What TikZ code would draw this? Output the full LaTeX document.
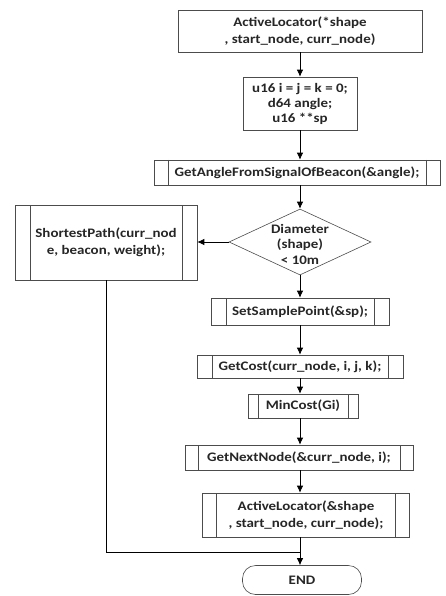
\documentclass[tikz,border=0pt]{standalone}
\usepackage{fontspec}
\setmainfont{Carlito}[FakeStretch=1.15]
\usetikzlibrary{shapes.geometric,arrows.meta}
\tikzset{
  txt/.style={font=\bfseries\fontsize{13}{17}\selectfont, text=black!85, align=center},
  box/.style={draw=black!70, line width=0.6pt, rectangle, inner sep=0pt, txt},
  sub/.style={box, path picture={
    \draw[black!70, line width=0.6pt] ([xshift=#1]path picture bounding box.north west) -- ([xshift=#1]path picture bounding box.south west);
    \draw[black!70, line width=0.6pt] ([xshift=-#1]path picture bounding box.north east) -- ([xshift=-#1]path picture bounding box.south east);}},
  sub/.default=14pt,
  conn/.style={black, line width=0.8pt, -{Latex[length=7pt,width=6.5pt]}},
  plain/.style={black, line width=0.8pt}
}
\begin{document}
\begin{tikzpicture}[x=1pt,y=-1pt]
\useasboundingbox (0,0) rectangle (446,596);
\node[box, minimum width=244pt, minimum height=42pt] (top) at (300,31) {ActiveLocator(*shape\\, start\_node, curr\_node)};
\node[box, minimum width=114pt, minimum height=53pt, font=\bfseries\fontsize{13}{15}\selectfont] (init) at (300,103.5) {u16 i = j = k = 0;\\d64 angle;\\u16 **sp};
\node[sub=14pt, minimum width=286pt, minimum height=25pt] (ang) at (297,172.5) {GetAngleFromSignalOfBeacon(\&angle);};
\node[diamond, draw=black!70, line width=0.6pt, minimum width=142pt, minimum height=66pt, inner sep=0pt] (dia) at (300,242) {};
\node[txt, font=\bfseries\fontsize{13}{15.5}\selectfont] (dialbl) at (300,244) {Diameter\\(shape)\\< 10m};
\node[sub=15pt, minimum width=182pt, minimum height=75pt] (sp) at (106,242.5) {ShortestPath(curr\_nod\\e, beacon, weight);};
\node[sub=15pt, minimum width=178pt, minimum height=27pt] (ssp) at (300,311.5) {SetSamplePoint(\&sp);};
\node[sub=15pt, minimum width=206pt, minimum height=23pt] (gc) at (300,366.5) {GetCost(curr\_node, i, j, k);};
\node[sub=10pt, minimum width=110pt, minimum height=24pt] (mc) at (303,406) {MinCost(Gi)};
\node[sub=13pt, minimum width=228pt, minimum height=25pt] (gn) at (299,457.5) {GetNextNode(\&curr\_node, i);};
\node[sub=14pt, minimum width=207pt, minimum height=44pt] (al) at (306,515) {ActiveLocator(\&shape\\, start\_node, curr\_node);};
\node[box, rounded corners=13pt, minimum width=119pt, minimum height=29pt] (end) at (302,580) {END};
\coordinate (join) at (300,552);
\draw[conn] (top.south -| init.north) -- (init.north);
\draw[conn] (init.south) -- (init.south |- ang.north);
\draw[conn] (ang.south -| dia.north) -- (dia.north);
\draw[conn] (dia.west) -- (sp.east |- dia.west);
\draw[conn] (dia.south) -- (dia.south |- ssp.north);
\draw[conn] (ssp.south -| dia.south) -- (dia.south |- gc.north);
\draw[conn] (gc.south -| dia.south) -- (dia.south |- mc.north);
\draw[conn] (mc.south -| dia.south) -- (dia.south |- gn.north);
\draw[conn] (gn.south -| dia.south) -- (dia.south |- al.north);
\draw[conn] (al.south -| dia.south) -- (dia.south |- end.north);
\draw[plain] (sp.south) |- (join);
\end{tikzpicture}
\end{document}
